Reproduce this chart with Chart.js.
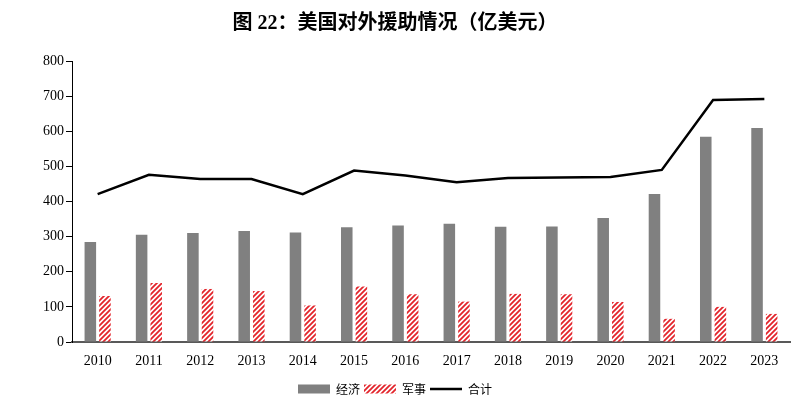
<!DOCTYPE html>
<html>
<head>
<meta charset="utf-8">
<script src="https://cdn.jsdelivr.net/npm/chart.js@4.4.0/dist/chart.umd.min.js"></script>
<style>
  html, body { margin: 0; padding: 0; background: #fff; }
  #wrap { width: 801px; height: 397px; }
</style>
</head>
<body>
<div id="wrap"><canvas id="chart"></canvas></div>
<script>
const years = ['2010','2011','2012','2013','2014','2015','2016','2017','2018','2019','2020','2021','2022','2023'];
const economic = [285, 305, 310, 316, 312, 327, 332, 337, 328, 329, 353, 421, 584, 609];
const military = [131, 168, 151, 145, 104, 158, 136, 115, 137, 136, 114, 66, 100, 80];
const total = [421, 476, 464, 464, 421, 488, 474, 455, 467, 468, 470, 490, 689, 692];

// red hatch for the military bars
function makeHatch() {
  const c = document.createElement('canvas');
  c.width = 5;
  c.height = 5;
  const g = c.getContext('2d');
  g.fillStyle = '#fff';
  g.fillRect(0, 0, 5, 5);
  g.strokeStyle = '#e3242b';
  g.lineWidth = 1.8;
  g.beginPath();
  g.moveTo(-1, 6); g.lineTo(6, -1);
  g.moveTo(-1, 1); g.lineTo(1, -1);
  g.moveTo(4, 6); g.lineTo(6, 4);
  g.stroke();
  return g.createPattern(c, 'repeat');
}
const hatch = makeHatch();

const serif = "'Liberation Serif', 'Noto Sans CJK SC', serif";

new Chart(document.getElementById('chart'), {
  data: {
    labels: years,
    datasets: [
      {
        type: 'line',
        label: '合计',
        data: total,
        borderColor: '#000',
        backgroundColor: '#000',
        borderWidth: 2.5,
        pointRadius: 0,
        tension: 0,
        order: 0
      },
      {
        type: 'bar',
        label: '经济',
        data: economic,
        backgroundColor: '#808080',
        borderWidth: 0,
        categoryPercentage: 0.57,
        barPercentage: 0.79,
        order: 1
      },
      {
        type: 'bar',
        label: '军事',
        data: military,
        backgroundColor: hatch,
        borderWidth: 0,
        categoryPercentage: 0.57,
        barPercentage: 0.79,
        order: 1
      }
    ]
  },
  options: {
    responsive: true,
    maintainAspectRatio: false,
    animation: false,
    layout: { padding: { left: 0, right: 11, top: 0, bottom: -8 } },
    plugins: {
      title: {
        display: true,
        text: '图 22：美国对外援助情况（亿美元）',
        color: '#000',
        font: { family: serif, size: 20, weight: 'bold' },
        padding: { top: 12, bottom: 25 }
      },
      legend: {
        position: 'bottom',
        labels: {
          color: '#000',
          font: { family: "'Noto Sans CJK SC', sans-serif", size: 12 },
          usePointStyle: true,
          pointStyleWidth: 32,
          boxHeight: 9,
          padding: 4,
          sort: (a, b) => [1, 2, 0].indexOf(a.datasetIndex) - [1, 2, 0].indexOf(b.datasetIndex),
          generateLabels: (chart) => {
            const items = Chart.defaults.plugins.legend.labels.generateLabels(chart);
            items.forEach(it => {
              if (it.datasetIndex === 0) {
                it.pointStyle = 'line';
                it.lineWidth = 2.5;
                it.strokeStyle = '#000';
              } else {
                it.pointStyle = 'rect';
                it.lineWidth = 0;
              }
            });
            return items;
          }
        }
      },
      tooltip: { enabled: false }
    },
    scales: {
      x: {
        grid: { display: false },
        border: { color: '#595959', width: 2 },
        ticks: { color: '#000', font: { family: serif, size: 14 }, padding: 3 },
        afterFit: (s) => { s.height = 37; }
      },
      y: {
        min: 0,
        max: 800,
        ticks: { stepSize: 100, color: '#000', font: { family: serif, size: 14 }, padding: 2 },
        grid: { drawOnChartArea: false, drawTicks: true, tickLength: 6, color: '#000' },
        border: { color: '#000', width: 1 },
        afterFit: (s) => { s.width = 72; }
      }
    }
  }
});
</script>
</body>
</html>
